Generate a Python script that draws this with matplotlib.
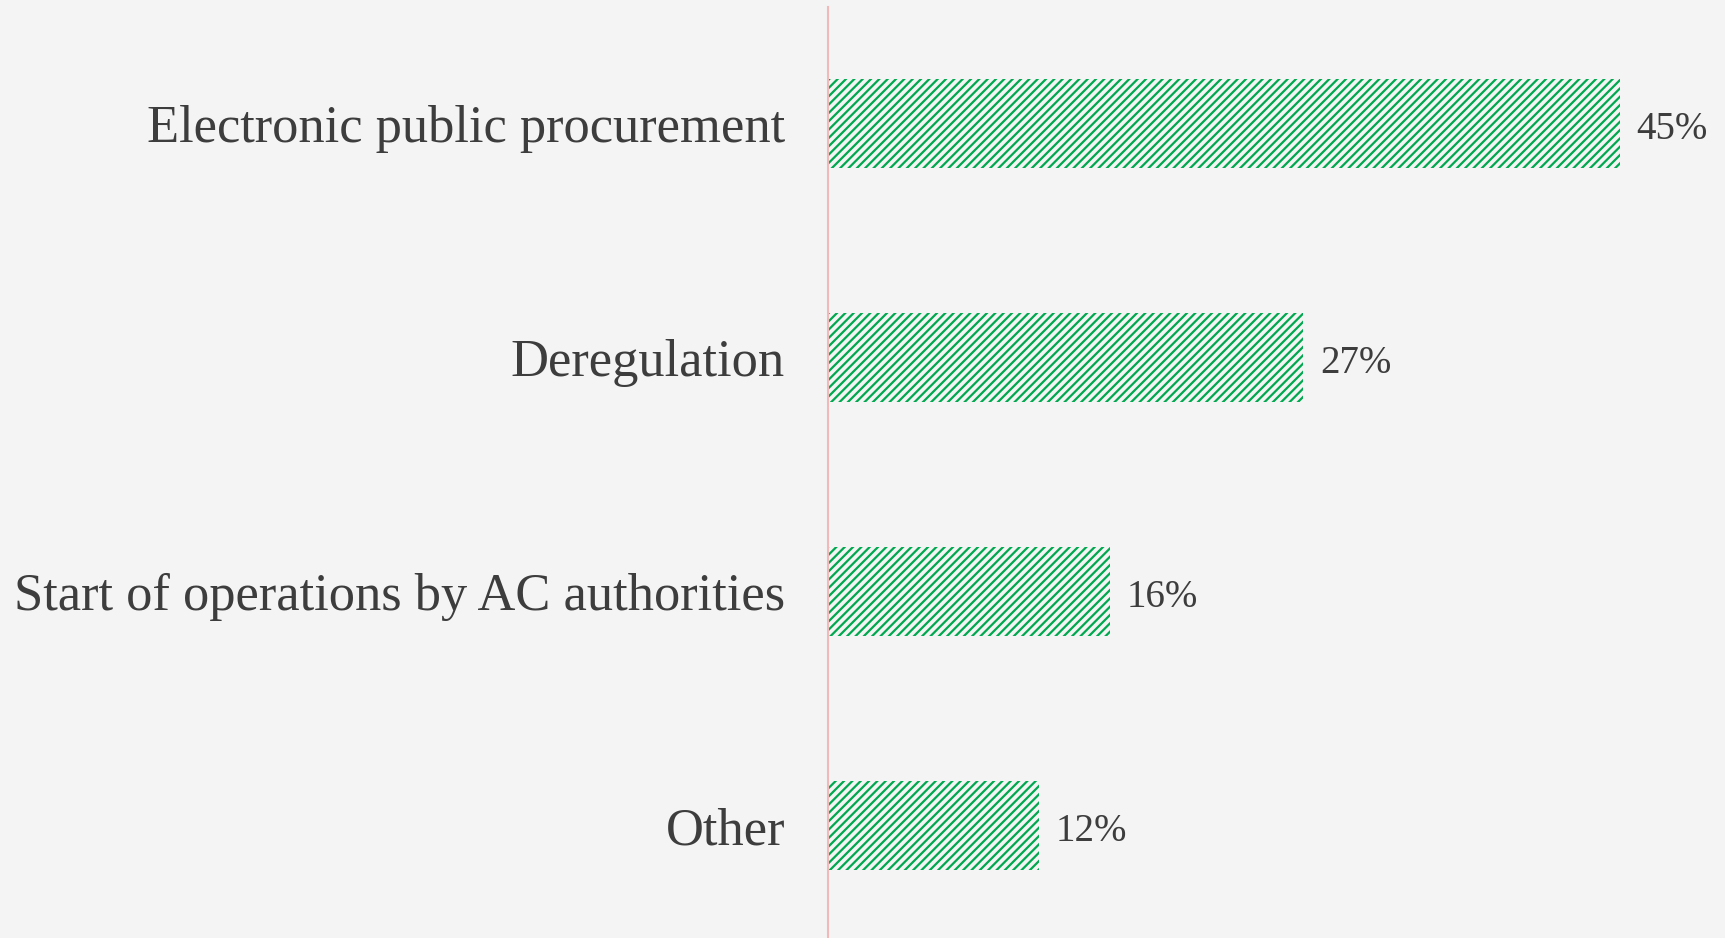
import matplotlib.pyplot as plt

# data
categorias = [
    "Electronic public procurement",
    "Deregulation",
    "Start of operations by AC authorities",
    "Other",
]
valores = [45, 27, 16, 12]
rotulos = ["45%", "27%", "16%", "12%"]

fundo = "#f4f4f4"
verde = "#00a84f"
texto = "#3d3d3d"

plt.rcParams["font.family"] = ["Liberation Serif", "DejaVu Serif"]
plt.rcParams["hatch.linewidth"] = 1.6

fig = plt.figure(figsize=(17.25, 9.38), dpi=100, facecolor=fundo)
ax = fig.add_axes([828 / 1725, -4.5 / 938, 897 / 1725, 936 / 938])
ax.set_facecolor(fundo)

posicoes = list(range(len(categorias)))
barras = ax.barh(
    posicoes,
    valores,
    height=0.38,
    color="none",
    edgecolor=verde,
    linewidth=0,
    hatch="////",
)

# rótulos de valor ao lado das barras
for barra, rotulo in zip(barras, rotulos):
    ax.annotate(
        rotulo,
        (barra.get_width(), barra.get_y() + barra.get_height() / 2),
        xytext=(12, -4),
        textcoords="offset points",
        ha="left",
        va="center",
        fontsize=28,
        color=texto,
    )

ax.set_xlim(0, 897 / 17.6)
ax.set_ylim(3.5, -0.5)
ax.set_yticks(posicoes)
ax.set_yticklabels(categorias, fontsize=37.8, color=texto)
ax.tick_params(axis="y", length=0, pad=31)
ax.set_xticks([])

for lado in ["top", "right", "bottom"]:
    ax.spines[lado].set_visible(False)
ax.spines["left"].set_color("#f2b9b9")
ax.spines["left"].set_linewidth(1.5)

plt.savefig("out.png", dpi=100, facecolor=fundo)
